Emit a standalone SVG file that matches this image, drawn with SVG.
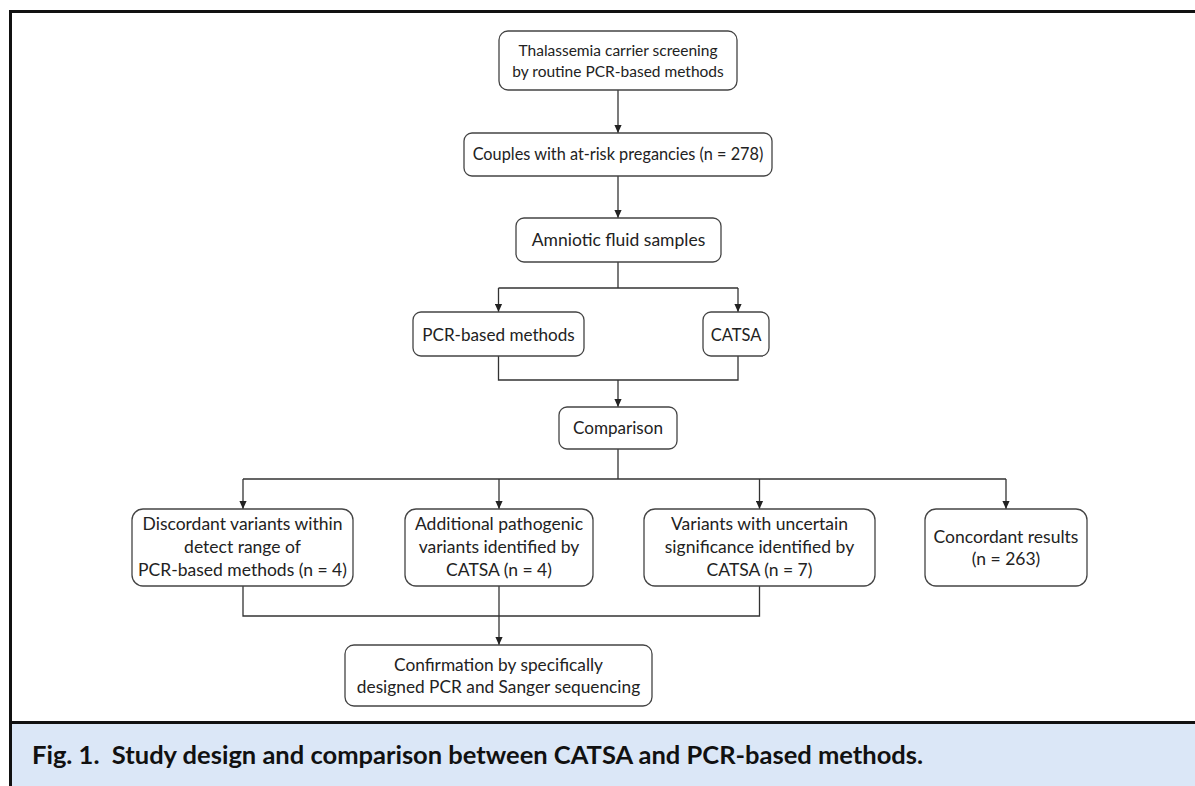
<svg xmlns="http://www.w3.org/2000/svg" width="1195" height="786" viewBox="0 0 1195 786">
<defs>
<marker id="arr" viewBox="0 0 10 10" refX="10" refY="5" markerWidth="8" markerHeight="8" markerUnits="userSpaceOnUse" orient="auto">
<path d="M0,0.5 L10,5 L0,9.5 z" fill="#222"/>
</marker>
<style>
.box{fill:#fff;stroke:#444;stroke-width:1.3}
.t{font-family:Lato,"Liberation Sans",sans-serif;font-size:17.5px;fill:#222;text-anchor:middle}
.c{fill:none;stroke:#333;stroke-width:1.3}
.a{fill:none;stroke:#333;stroke-width:1.3;marker-end:url(#arr)}
.cap{font-family:Lato,"Liberation Sans",sans-serif;font-size:25.5px;font-weight:bold;fill:#111}
</style>
</defs>
<rect x="0" y="0" width="1195" height="786" fill="#fff"/>
<rect x="10" y="723" width="1185" height="63" fill="#dbe7f7"/>
<g id="frame" fill="none" stroke="#111" stroke-width="3">
<line x1="10.5" y1="11.5" x2="1195" y2="11.5"/>
<line x1="10.5" y1="10" x2="10.5" y2="786"/>
<line x1="10" y1="722.5" x2="1195" y2="722.5"/>
</g>
<g id="connectors">
<line class="a" x1="618" y1="90" x2="618" y2="133"/>
<line class="a" x1="618" y1="176" x2="618" y2="218"/>
<path class="c" d="M618,262 V288 M498.5,288 H738"/>
<line class="a" x1="498.5" y1="288" x2="498.5" y2="312"/>
<line class="a" x1="738" y1="288" x2="738" y2="312"/>
<path class="c" d="M498.5,356 V380 H738 V356"/>
<line class="a" x1="618" y1="380" x2="618" y2="407"/>
<path class="c" d="M618,449 V479 M243,479 H1006"/>
<line class="a" x1="243" y1="479" x2="243" y2="509"/>
<line class="a" x1="499" y1="479" x2="499" y2="509"/>
<line class="a" x1="759.5" y1="479" x2="759.5" y2="509"/>
<line class="a" x1="1006" y1="479" x2="1006" y2="509"/>
<path class="c" d="M243,586 V616 H759.5 V586"/>
<line class="a" x1="499" y1="586" x2="499" y2="645"/>
</g>
<g id="n1"><rect class="box" x="499" y="31" width="238" height="59" rx="9"/>
<text class="t" x="618" y="56" style="font-size:15.5px">Thalassemia carrier screening</text>
<text class="t" x="618" y="77" style="font-size:15.5px">by routine PCR-based methods</text></g>
<g id="n2"><rect class="box" x="464" y="133" width="308" height="43" rx="8"/>
<text class="t" x="618" y="160" style="font-size:16.3px">Couples with at-risk pregancies (n = 278)</text></g>
<g id="n3"><rect class="box" x="516" y="218" width="205" height="44" rx="8"/>
<text class="t" x="618.5" y="246">Amniotic fluid samples</text></g>
<g id="n4"><rect class="box" x="413" y="312" width="171" height="44" rx="8"/>
<text class="t" x="498.5" y="341" style="font-size:17.1px">PCR-based methods</text></g>
<g id="n5"><rect class="box" x="703" y="312" width="66" height="44" rx="8"/>
<text class="t" x="736" y="341" style="font-size:16.5px">CATSA</text></g>
<g id="n6"><rect class="box" x="559" y="407" width="118" height="42" rx="8"/>
<text class="t" x="618" y="434" style="font-size:17.1px">Comparison</text></g>
<g id="n7"><rect class="box" x="132" y="509" width="221" height="77" rx="11"/>
<text class="t" x="242.5" y="530">Discordant variants within</text>
<text class="t" x="242.5" y="553">detect range of</text>
<text class="t" x="242.5" y="576">PCR-based methods (n = 4)</text></g>
<g id="n8"><rect class="box" x="405" y="509" width="188" height="77" rx="11"/>
<text class="t" x="499" y="530">Additional pathogenic</text>
<text class="t" x="499" y="553">variants identified by</text>
<text class="t" x="499" y="576">CATSA (n = 4)</text></g>
<g id="n9"><rect class="box" x="644" y="509" width="231" height="77" rx="11"/>
<text class="t" x="759.5" y="530">Variants with uncertain</text>
<text class="t" x="759.5" y="553">significance identified by</text>
<text class="t" x="759.5" y="576">CATSA (n = 7)</text></g>
<g id="n10"><rect class="box" x="925" y="509" width="162" height="77" rx="11"/>
<text class="t" x="1006" y="543">Concordant results</text>
<text class="t" x="1006" y="565">(n = 263)</text></g>
<g id="n11"><rect class="box" x="345" y="645" width="307" height="61" rx="9"/>
<text class="t" x="498.5" y="671" style="font-size:17.3px">Confirmation by specifically</text>
<text class="t" x="498.5" y="693" style="font-size:17.3px">designed PCR and Sanger sequencing</text></g>
<text class="cap" x="32" y="764" xml:space="preserve">Fig. 1.  Study design and comparison between CATSA and PCR-based methods.</text>
</svg>
